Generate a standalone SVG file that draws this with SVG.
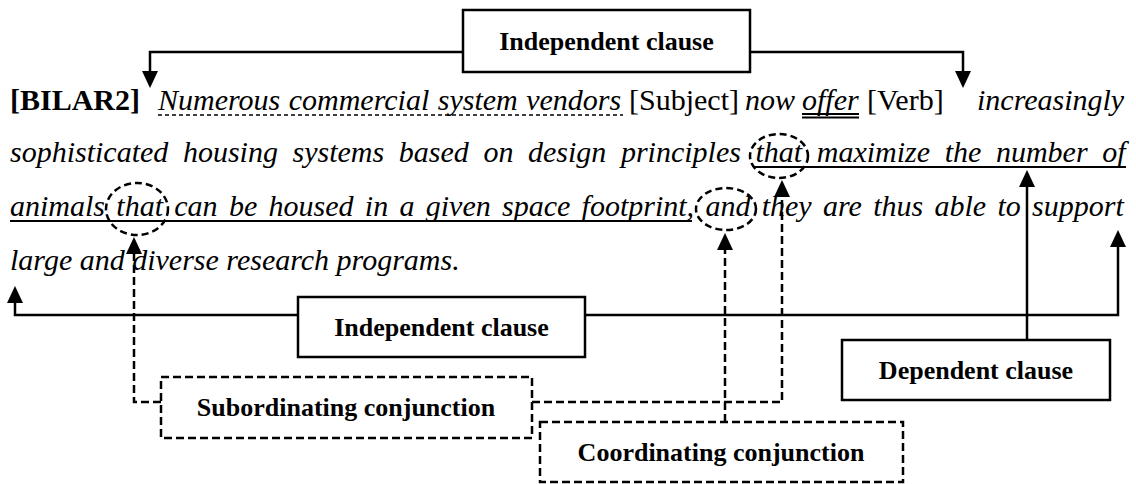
<svg xmlns="http://www.w3.org/2000/svg" width="1136" height="484" viewBox="0 0 1136 484">
<defs>
<style>
.t{font-family:"Liberation Serif","Times New Roman",serif;font-size:30px;fill:#000}
.i{font-style:italic}
.b{font-weight:bold}
.lbl{font-family:"Liberation Serif","Times New Roman",serif;font-size:26px;font-weight:bold;fill:#000;text-anchor:middle}
.box{fill:#fff;stroke:#000;stroke-width:2.5}
.dbox{fill:#fff;stroke:#000;stroke-width:2.5;stroke-dasharray:8,4}
.c{fill:none;stroke:#000;stroke-width:2.5}
.dc{fill:none;stroke:#000;stroke-width:2.5;stroke-dasharray:8,4}
.ah{fill:#000;stroke:none}
.ul{stroke:#000;stroke-width:2}
.dul{stroke:#000;stroke-width:1.6;stroke-dasharray:4,3}
.el{fill:none;stroke:#000;stroke-width:2.5;stroke-dasharray:7,4}
</style>
</defs>
<rect width="1136" height="484" fill="#fff"/>

<g id="text">
<text class="t b" x="10" y="110">[BILAR2]</text>
<text class="t i" x="158" y="110" word-spacing="1">Numerous commercial system vendors</text>
<text class="t" x="629" y="110">[Subject]</text>
<text class="t i" x="745" y="110">now</text>
<text class="t i" x="802" y="110">offer</text>
<text class="t" x="867" y="110">[Verb]</text>
<text class="t i" x="977" y="110">increasingly</text>
<line class="dul" x1="158" y1="115" x2="623" y2="115"/>
<line class="ul" x1="802" y1="114" x2="859" y2="114" stroke-width="1.5"/>
<line class="ul" x1="802" y1="117.5" x2="859" y2="117.5" stroke-width="1.5"/>

<text class="t i" x="10" y="162" word-spacing="7.1">sophisticated housing systems based on design principles that maximize the number of</text>
<line class="ul" x1="755" y1="167" x2="1126" y2="167"/>

<text class="t i" x="10" y="216" word-spacing="3.8">animals that can be housed in a given space footprint, and they are thus able to support</text>
<line class="ul" x1="10" y1="221" x2="692" y2="221"/>

<text class="t i" x="10" y="270">large and diverse research programs.</text>
</g>

<g id="connectors">
<path class="c" d="M463,52 H150 V74"/>
<polygon class="ah" points="142,71 158,71 150,88"/>
<path class="c" d="M750,52 H963 V74"/>
<polygon class="ah" points="955,71 971,71 963,88"/>
<path class="c" d="M298,315 H15 V300"/>
<polygon class="ah" points="7,303 23,303 15,286"/>
<path class="c" d="M585,315 H1118 V244"/>
<polygon class="ah" points="1110,247 1126,247 1118,230"/>
<path class="c" d="M1027,340 V184"/>
<polygon class="ah" points="1019,187 1035,187 1027,170"/>
<path class="dc" d="M161,402 H134 V251"/>
<polygon class="ah" points="126,254 142,254 134,237"/>
<path class="dc" d="M532,402 H782 V194"/>
<polygon class="ah" points="774,197 790,197 782,180"/>
<path class="dc" d="M725,422 V247"/>
<polygon class="ah" points="717,250 733,250 725,233"/>
</g>

<g id="ellipses">
<ellipse class="el" cx="137" cy="209" rx="31" ry="26"/>
<ellipse class="el" cx="779" cy="156" rx="29" ry="22"/>
<ellipse class="el" cx="726" cy="209" rx="30" ry="21"/>
</g>

<g id="n-top">
<rect class="box" x="463" y="10" width="287" height="62"/>
<text class="lbl" x="606.5" y="50">Independent clause</text>
</g>
<g id="n-mid">
<rect class="box" x="298" y="297" width="287" height="60"/>
<text class="lbl" x="441.5" y="336">Independent clause</text>
</g>
<g id="n-dep">
<rect class="box" x="842" y="340" width="268" height="60"/>
<text class="lbl" x="976" y="379">Dependent clause</text>
</g>
<g id="n-sub">
<rect class="dbox" x="161" y="377" width="371" height="61"/>
<text class="lbl" x="346" y="416">Subordinating conjunction</text>
</g>
<g id="n-coord">
<rect class="dbox" x="540" y="422" width="363" height="60"/>
<text class="lbl" x="721" y="461">Coordinating conjunction</text>
</g>
</svg>
